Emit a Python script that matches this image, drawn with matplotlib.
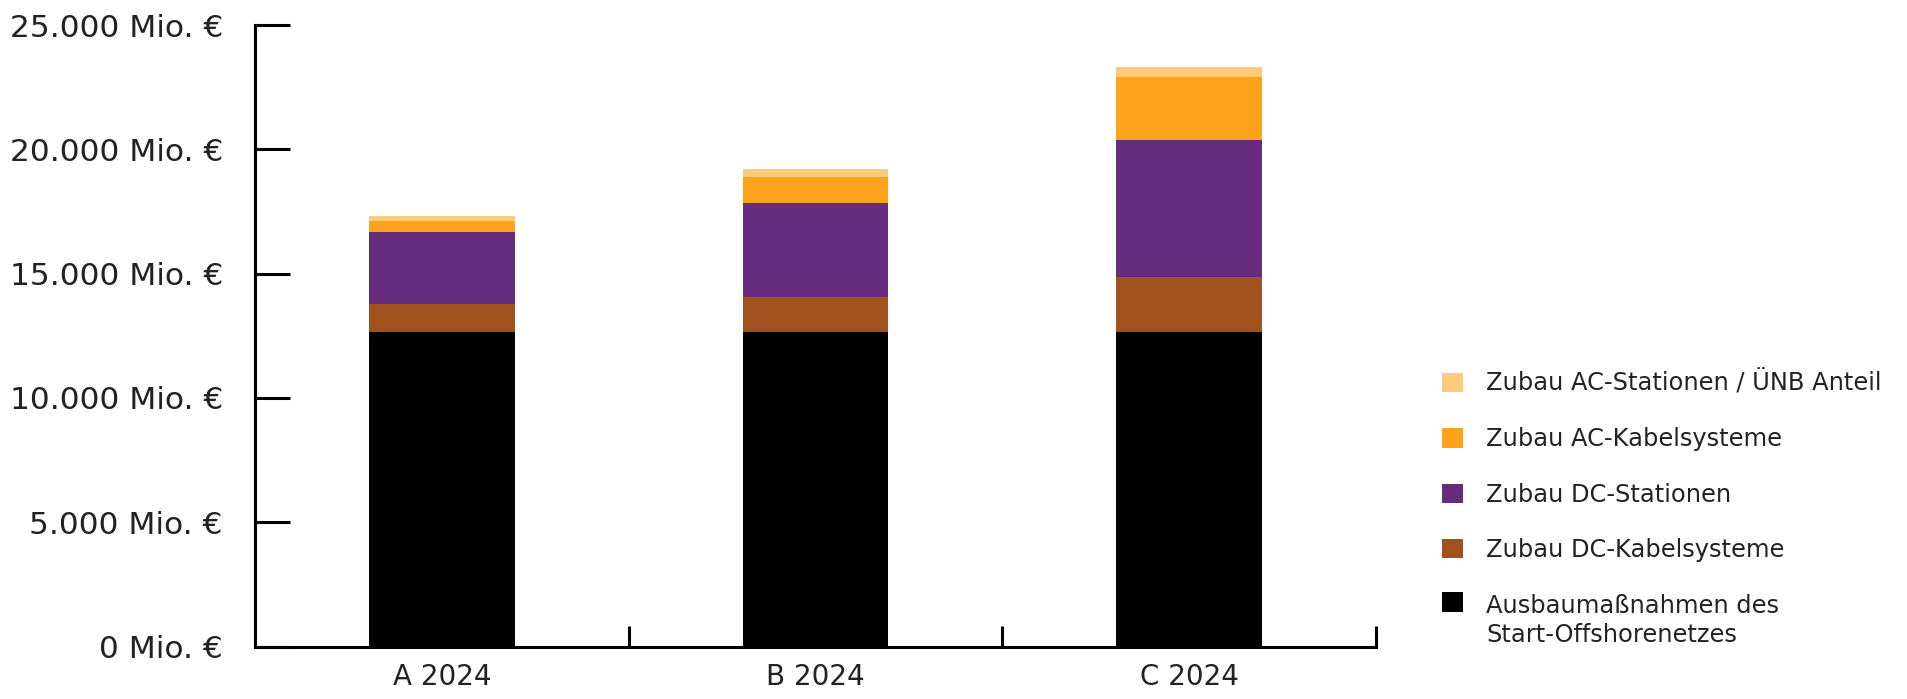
import numpy as np
import matplotlib
matplotlib.use('Agg')
import matplotlib.pyplot as plt
import matplotlib.patches as mpatches
from matplotlib.legend_handler import HandlerPatch, update_from_first_child

plt.rcParams['font.family'] = ['DejaVu Sans']

# Szenarien und Kostenanteile (Mio. EUR)
scenarios = ['A 2024', 'B 2024', 'C 2024']
start_offshore = [12660, 12660, 12660]
dc_kabel = [1110, 1410, 2220]
dc_stationen = [2890, 3780, 5490]
ac_kabel = [460, 1050, 2530]
ac_stationen = [200, 300, 420]

series = [
    ('Ausbaumaßnahmen des\nStart-Offshorenetzes', start_offshore, '#000000'),
    ('Zubau DC-Kabelsysteme', dc_kabel, '#A1511E'),
    ('Zubau DC-Stationen', dc_stationen, '#652B7D'),
    ('Zubau AC-Kabelsysteme', ac_kabel, '#FCA21D'),
    ('Zubau AC-Stationen / ÜNB Anteil', ac_stationen, '#FDCB7A'),
]
yticks = [0, 5000, 10000, 15000, 20000, 25000]

fig = plt.figure(figsize=(19.08, 6.99), dpi=100)
ax = fig.add_axes([0.1336, 0.0751, 0.7212 - 0.1336, 0.9642 - 0.0751])

x = np.arange(len(scenarios))
bottom = np.zeros(len(scenarios))
handles = []
for label, vals, col in series:
    h = ax.bar(x, vals, width=0.39, bottom=bottom, color=col, label=label, linewidth=0)
    handles.append(h)
    bottom += np.array(vals)

ax.set_xlim(-0.5, 2.5)
ax.set_ylim(0, 25000)
ax.set_yticks(yticks)
ax.set_yticklabels([f'{v:,}'.replace(',', '.') + ' Mio. €' for v in yticks])

ax.set_xticks([0.5, 1.5, 2.5])
ax.set_xticklabels([])
ax.set_xticks(x, minor=True)
ax.set_xticklabels(scenarios, minor=True)

for s in ['top', 'right']:
    ax.spines[s].set_visible(False)
for s in ['left', 'bottom']:
    ax.spines[s].set_linewidth(2.2)

ax.tick_params(axis='y', direction='in', length=25, width=2.2, labelsize=22.5, pad=23,
               colors='black', labelcolor='#222222')
ax.tick_params(axis='x', which='major', direction='in', length=15, width=2.2)
ax.tick_params(axis='x', which='minor', length=0, labelsize=20, pad=12, labelcolor='#222222')


# two-line entry: square sits on the first text line
def top_patch(legend, orig_handle, xdescent, ydescent, width, height, fontsize):
    return mpatches.Rectangle((-xdescent, -ydescent + 14), width, height)


hmap = {handles[0]: HandlerPatch(patch_func=top_patch, update_func=update_from_first_child)}

leg = fig.legend(handles[::-1], [s[0] for s in series][::-1],
                 loc='upper left', bbox_to_anchor=(0.756, 0.470), handler_map=hmap,
                 frameon=False, fontsize=17.4, handlelength=0.85, handleheight=0.85,
                 handletextpad=0.95, labelspacing=1.3, borderpad=0, borderaxespad=0)
for t in leg.get_texts():
    t.set_color('#222222')
    t.set_linespacing(1.3)

fig.savefig('out.png', dpi=100)
